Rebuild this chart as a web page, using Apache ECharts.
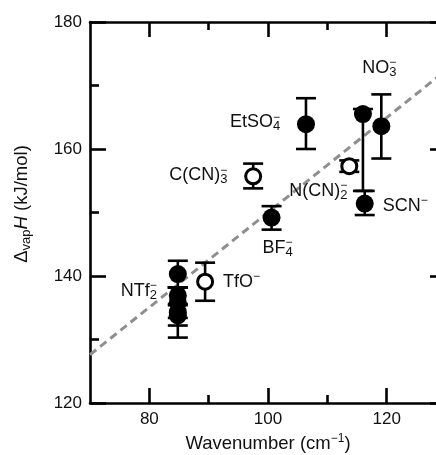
<!DOCTYPE html>
<html>
<head>
<meta charset="utf-8">
<script src="https://cdn.jsdelivr.net/npm/echarts@6/dist/echarts.min.js"></script>
<style>
  html, body { margin: 0; padding: 0; background: #fff; overflow: hidden; }
  /* the plot runs a little past the right edge of the window, as in the original */
  #main { width: 446px; height: 455px; }
</style>
</head>
<body>
<div id="main"></div>
<script>
// filled circles (x, y, error bar low / high)
var filledX  = [84.8, 84.8, 84.8, 84.8, 84.8, 100.6, 106.4, 116.0, 116.3, 119.1];
var filledY  = [140.3, 136.9, 135.8, 134.3, 133.8, 149.2, 163.9, 165.5, 151.4, 163.6];
var filledLo = [138.2, 135.6, 133.4, 130.3, 132.2, 147.3, 160.0, 153.4, 149.6, 158.5];
var filledHi = [142.4, 138.2, 138.2, 138.2, 135.4, 151.0, 168.0, 166.3, 153.4, 168.6];
var filledLabels = ['', 'NTf2', '', '', '', 'BF4', 'EtSO4', '', 'SCN', 'NO3'];

// open circles
var openX  = [89.4, 97.5, 113.7];
var openY  = [139.1, 155.7, 157.3];
var openLo = [136.1, 153.8, 156.4];
var openHi = [142.1, 157.7, 158.2];
var openLabels = ['TfO', 'C(CN)3', 'N(CN)2'];

// dashed fit line end points
var fitX = [70, 130];
var fitY = [127.6, 172.4];

var xMajor = [80, 100, 120];
var xMinor = [90, 110];

var labelText = {
  'NTf2': '{n|NTf}{sb|2}{sp|−}',
  'BF4': '{n|BF}{sb|4}{sp|−}',
  'EtSO4': '{n|EtSO}{sb|4}{sp|−}',
  'SCN': '{n|SCN}{sp|−}',
  'NO3': '{n|NO}{sb|3}{sp|−}',
  'TfO': '{n|TfO}{sp|−}',
  'C(CN)3': '{n|C(CN)}{sb|3}{sp|−}',
  'N(CN)2': '{n|N(CN)}{sb|2}{sp|−}'
};
// where each label sits relative to its point
var labelPlace = {
  'NTf2': ['right', -21, -5],
  'BF4': ['center', 6, 30],
  'EtSO4': ['right', -26, -2],
  'SCN': ['left', 18, 2],
  'NO3': ['center', -2, -58],
  'TfO': ['left', 18, 0],
  'C(CN)3': ['right', -26, -1],
  'N(CN)2': ['right', -2, 25]
};

var font = 'Liberation Sans, Arial, Helvetica, sans-serif';
var rich = {
  n: { fontSize: 18, lineHeight: 22, align: 'left', color: '#111', fontFamily: font },
  sb: { fontSize: 13, lineHeight: 13, verticalAlign: 'bottom', align: 'left', width: 0, color: '#111', fontFamily: font },
  sub: { fontSize: 13, lineHeight: 13, verticalAlign: 'bottom', align: 'left', color: '#111', fontFamily: font },
  sp: { fontSize: 12, lineHeight: 3, verticalAlign: 'top', align: 'left', color: '#111', fontFamily: font },
  up: { fontSize: 12, lineHeight: 12, verticalAlign: 'top', align: 'left', color: '#111', fontFamily: font },
  i: { fontSize: 18.5, lineHeight: 22, align: 'left', fontStyle: 'italic', color: '#111', fontFamily: font },
  a: { fontSize: 18.5, lineHeight: 22, align: 'left', color: '#111', fontFamily: font }
};

function pointItem(x, y, name) {
  var item = { value: [x, y] };
  if (name) {
    var p = labelPlace[name];
    item.label = {
      show: true,
      position: 'inside',
      formatter: labelText[name],
      align: p[0],
      verticalAlign: 'middle',
      offset: [p[1], p[2]],
      rich: rich
    };
  }
  return item;
}

function errData(xs, lo, hi) {
  return xs.map(function (x, i) { return [x, lo[i], hi[i]]; });
}

function renderErr(params, api) {
  var x = api.value(0);
  var pLo = api.coord([x, api.value(1)]);
  var pHi = api.coord([x, api.value(2)]);
  var cap = 10;
  var style = { stroke: '#000', lineWidth: 2.6 };
  return {
    type: 'group',
    children: [
      { type: 'line', shape: { x1: pLo[0], y1: pLo[1], x2: pHi[0], y2: pHi[1] }, style: style },
      { type: 'line', shape: { x1: pLo[0] - cap, y1: pLo[1], x2: pLo[0] + cap, y2: pLo[1] }, style: style },
      { type: 'line', shape: { x1: pHi[0] - cap, y1: pHi[1], x2: pHi[0] + cap, y2: pHi[1] }, style: style }
    ]
  };
}

var axisLine = { show: true, lineStyle: { color: '#000', width: 2.6 } };

function xAx(pos, ticks, len, main) {
  return {
    type: 'value', position: pos, min: 70, max: 130,
    axisLine: main ? axisLine : { show: false },
    axisTick: { show: true, inside: true, length: len, customValues: ticks, lineStyle: { color: '#000', width: 2.6 } },
    axisLabel: { show: main && pos === 'bottom', customValues: xMajor, fontSize: 17, color: '#111', fontFamily: font, margin: 8 },
    splitLine: { show: false }
  };
}

function yAx(pos, main) {
  return {
    type: 'value', position: pos, min: 120, max: 180, interval: 20,
    axisLine: axisLine,
    axisTick: { show: true, inside: true, length: 16, lineStyle: { color: '#000', width: 2.6 } },
    minorTick: { show: true, splitNumber: 2, length: 9, lineStyle: { color: '#000', width: 2.6 } },
    axisLabel: { show: main, fontSize: 17, color: '#111', fontFamily: font, margin: 8 },
    splitLine: { show: false }
  };
}

var chart = echarts.init(document.getElementById('main'));

var xBottom = xAx('bottom', xMajor, 15, true);
xBottom.name = '{a|Wavenumber (cm}{up|−1}{a|)}';
xBottom.nameLocation = 'middle';
xBottom.nameGap = 29;
xBottom.nameTextStyle = { rich: rich };

var yLeft = yAx('left', true);
yLeft.name = '{a|Δ}{sub|vap}{i|H}{a| (kJ/mol)}';
yLeft.nameLocation = 'middle';
yLeft.nameGap = 57;
yLeft.nameTextStyle = { rich: rich, padding: [0, 0, 0, 17] };

var option = {
  backgroundColor: '#fff',
  animation: false,
  grid: { left: 90, top: 22, right: 0, bottom: 52, outerBoundsMode: 'none' },
  xAxis: [
    xBottom,
    xAx('bottom', xMinor, 8, false),
    xAx('top', xMajor, 15, true),
    xAx('top', xMinor, 8, false)
  ],
  yAxis: [yLeft, yAx('right', false)],
  series: [
    {
      type: 'line',
      data: fitX.map(function (x, i) { return [x, fitY[i]]; }),
      symbol: 'none',
      lineStyle: { color: '#8f8f8f', width: 3, type: [8, 5] },
      z: 1
    },
    {
      type: 'custom',
      renderItem: renderErr,
      data: errData(filledX, filledLo, filledHi),
      z: 2
    },
    {
      type: 'custom',
      renderItem: renderErr,
      data: errData(openX, openLo, openHi),
      z: 2
    },
    {
      type: 'scatter',
      symbolSize: 18,
      itemStyle: { color: '#000', opacity: 1 },
      data: filledX.map(function (x, i) { return pointItem(x, filledY[i], filledLabels[i]); }),
      z: 3
    },
    {
      type: 'scatter',
      symbolSize: 15,
      itemStyle: { color: '#fff', borderColor: '#000', borderWidth: 3, opacity: 1 },
      data: openX.map(function (x, i) { return pointItem(x, openY[i], openLabels[i]); }),
      z: 3
    }
  ]
};

chart.setOption(option);
</script>
</body>
</html>
